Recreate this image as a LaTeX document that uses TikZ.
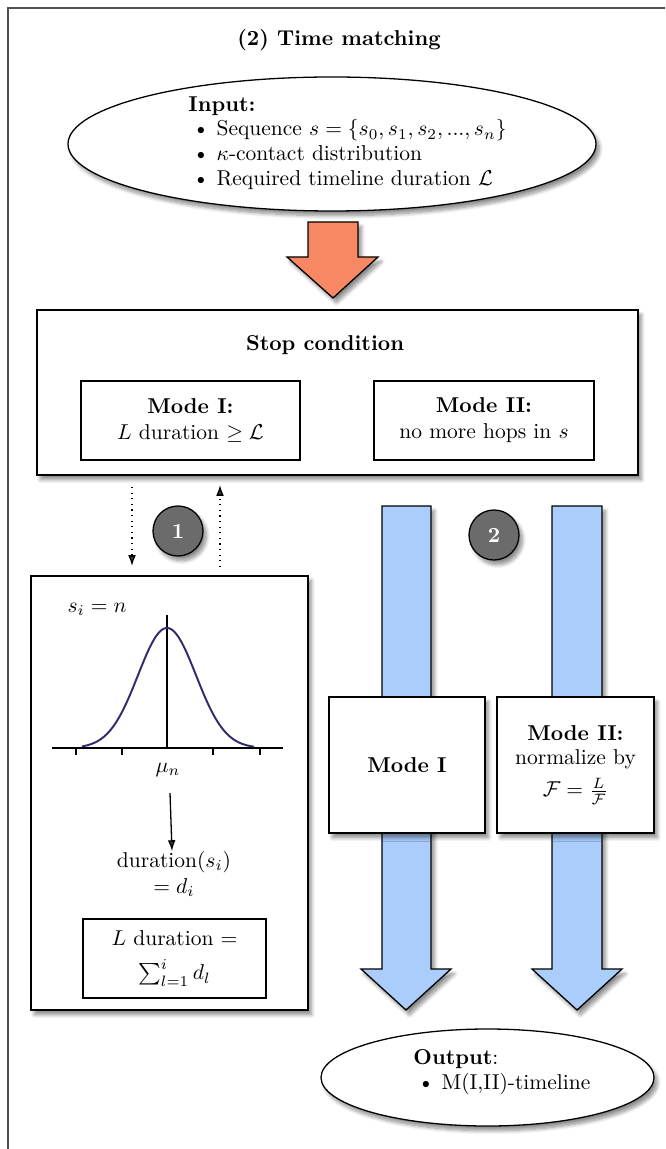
\documentclass[tikz,border=0pt]{standalone}
\usetikzlibrary{shapes.geometric,shadows.blur,arrows.meta,calc}
\definecolor{salmonA}{RGB}{248,135,100}
\definecolor{blueA}{RGB}{170,205,252}
\definecolor{navyA}{RGB}{46,44,110}
\definecolor{circA}{RGB}{107,107,107}
\definecolor{frameA}{RGB}{80,80,80}
\def\u{0.465pt}
\begin{document}
\begin{tikzpicture}[x=0.465pt,y=-0.465pt,
  box/.style={draw, fill=white, line width=0.6pt, align=center, inner sep=0pt},
  shad/.style={blur shadow={shadow xshift=1.6pt, shadow yshift=-2.2pt, shadow blur steps=8, shadow opacity=45}},
  ell/.style={ellipse, draw, fill=white, line width=0.6pt, inner sep=0pt, align=left},
  fat/.style={draw=black, line width=0.6pt, line join=miter},
  badge/.style={circle, draw=black, fill=circA, line width=0.6pt, text=white, font=\bfseries, minimum size=50*\u, inner sep=0pt},
  dotarrow/.style={dotted, line width=0.6pt, -{Latex[length=5pt,width=3.6pt]}},
  lbl/.style={inner sep=0pt, align=center}
]
\useasboundingbox (0,0) rectangle (665,1149);
\begin{scope}
  \clip (0,0) rectangle (665,1149);
  \draw[frameA, line width=0.6pt] (8,8) rectangle (720,1220);
\end{scope}

\node[lbl, font=\bfseries] (title) at (339,40) {(2) Time matching};

% input ellipse
\node[ell, shad, minimum width=528*\u, minimum height=134*\u] (input) at (332,144) {};
\node[lbl, align=left, anchor=north west] (inputtxt) at (188,96)
  {\textbf{Input:}\\[-0.5pt]
   \hspace{2pt}\textbullet\ Sequence $s=\{s_0,s_1,s_2,...,s_n\}$\\[-0.5pt]
   \hspace{2pt}\textbullet\ $\kappa$-contact distribution\\[-0.5pt]
   \hspace{2pt}\textbullet\ Required timeline duration $\mathcal{L}$};

% orange arrow
\draw[fat, fill=salmonA, shad] (308,222) -- (358,222) -- (358,257) -- (378,257) -- (333,298) -- (287,257) -- (308,257) -- cycle;

% stop condition box
\node[box, shad, minimum width=601*\u, minimum height=165*\u] (stop) at (337.5,392.5) {};
\node[lbl, font=\bfseries] (stoptitle) at (325,345) {Stop condition};
\node[box, minimum width=219*\u, minimum height=79*\u] (m1) at (190.5,420.5)
  {\textbf{Mode I:}\\ $L$ duration $\geq \mathcal{L}$};
\node[box, minimum width=220*\u, minimum height=79*\u] (m2) at (484,420.5)
  {\textbf{Mode II:}\\ no more hops in $s$};

% dotted loop arrows
\coordinate (d1s) at (132,487);
\coordinate (d1e) at (132,566);
\coordinate (d2s) at (220,567);
\coordinate (d2e) at (220,485);
\draw[dotarrow] (d1s) -- (d1e);
\draw[dotarrow] (d2s) -- (d2e);

\node[badge, shad] (b1) at (178,531) {1};
\node[badge, shad] (b2) at (494,535) {2};

% blue arrows
\draw[fat, fill=blueA, shad] (382,506) -- (431,506) -- (431,969) -- (451,969) -- (406,1010) -- (361,969) -- (382,969) -- cycle;
\draw[fat, fill=blueA, shad] (552,506) -- (602,506) -- (602,969) -- (622,969) -- (577,1010) -- (532,969) -- (552,969) -- cycle;

\node[box, shad, minimum width=156*\u, minimum height=136*\u] (lm1) at (407,765) {\textbf{Mode I}};
\node[box, shad, minimum width=157*\u, minimum height=136*\u] (lm2) at (575.5,765)
  {\textbf{Mode II:}\\[-1pt] normalize by\\[3pt] $\mathcal{F}=\frac{L}{\mathcal{F}}$};

% left box
\node[box, shad, minimum width=277*\u, minimum height=434*\u] (left) at (169.5,793) {};
\node[lbl] (si) at (97,609) {$s_i = n$};
\draw[line width=0.9pt] (52,748) -- (283,748);
\foreach \t in {76,122,213,260} \draw[line width=0.9pt] (\t,748) -- (\t,755);
\draw[line width=0.9pt] (167,615) -- (167,748);
\draw[navyA, line width=0.9pt, domain=82:254, samples=90, smooth]
  plot (\x, {748-120*exp(-((\x-167)*(\x-167))/1682)});
\node[lbl] (mu) at (168,770) {$\mu_n$};
\node[lbl] (dur) at (174,874) {duration$(s_i)$\\ $= d_i$};
\coordinate (ma) at (170,793);
\coordinate (mb) at (172,851);
\draw[line width=0.6pt, -{Latex[length=5pt,width=3.6pt]}] (ma) -- (mb);
\node[box, minimum width=183*\u, minimum height=79*\u] (sumbox) at (174.5,958.5)
  {$L$ duration $=$\\[4pt] $\sum_{l=1}^{i} d_l$};

% output ellipse
\node[ell, shad, minimum width=333*\u, minimum height=97*\u] (output) at (487.5,1077.5) {};
\node[lbl, align=left, anchor=north west] (outtxt) at (413,1049)
  {\textbf{Output}:\\[-0.5pt] \hspace{2pt}\textbullet\ M(I,II)-timeline};
\end{tikzpicture}
\end{document}
